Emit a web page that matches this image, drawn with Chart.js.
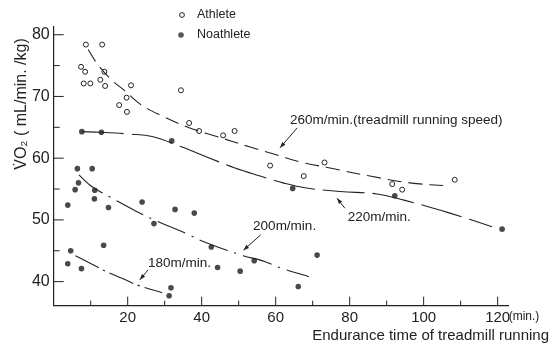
<!DOCTYPE html>
<html>
<head>
<meta charset="utf-8">
<script src="https://cdn.jsdelivr.net/npm/chart.js@4.4.0/dist/chart.umd.min.js"></script>
<style>
  html, body { margin: 0; padding: 0; background: #fff; }
</style>
</head>
<body>
<canvas id="chart" width="554" height="348"></canvas>
<script>
// VO2 vs endurance time on the treadmill
// x = endurance time (min), y = VO2 (mL/min./kg)

const athlete = [
  [8.7, 78.4], [13.1, 78.4], [7.4, 74.8], [8.5, 74.0], [13.7, 74.0],
  [8.1, 72.1], [9.9, 72.1], [12.6, 72.7], [13.9, 71.7], [20.9, 71.8],
  [19.7, 69.8], [17.7, 68.6], [19.8, 67.5], [34.4, 71.0], [36.6, 65.7],
  [39.3, 64.4], [45.8, 63.7], [48.9, 64.4], [58.5, 58.8], [67.6, 57.1],
  [73.2, 59.3], [91.5, 55.8], [94.2, 54.9], [108.4, 56.5]
];

const noathlete = [
  [7.6, 64.3], [12.9, 64.2], [31.9, 62.8], [6.4, 58.3], [10.4, 58.3],
  [6.7, 56.0], [5.8, 54.9], [11.1, 54.8], [11.0, 53.4], [3.8, 52.4],
  [14.8, 52.0], [23.9, 52.9], [27.1, 49.4], [32.8, 51.7], [38.0, 51.1],
  [42.6, 45.6], [44.3, 42.3], [50.4, 41.7], [54.2, 43.4], [64.6, 55.1],
  [71.2, 44.3], [66.1, 39.2], [92.2, 53.9], [121.2, 48.5], [4.6, 45.0],
  [3.8, 42.9], [7.5, 42.1], [13.5, 45.9], [31.7, 39.0], [31.2, 37.7]
];

// hand-drawn trend curves, one per running speed
const curve260 = [
  [9.3, 77.6], [12.0, 75.1], [15.8, 72.6], [19.3, 70.9], [23.3, 68.8],
  [28.7, 67.0], [36.8, 64.9], [43.6, 63.6], [53.1, 61.8], [60.4, 60.5],
  [66.6, 59.4], [74.7, 58.4], [85.5, 57.1], [96.3, 56.0], [107.1, 55.5]
];
const curve220 = [
  [7.6, 64.3], [12.5, 64.2], [20.6, 63.9], [26.6, 63.5], [34.7, 61.8],
  [42.2, 60.0], [49.0, 58.4], [55.8, 57.1], [62.0, 56.0], [67.9, 55.2],
  [77.4, 54.6], [87.4, 54.2], [94.7, 53.2], [107.1, 51.1], [118.5, 48.9]
];
const curve200 = [
  [6.8, 57.3], [10.1, 55.5], [13.1, 54.4], [15.2, 53.7], [22.0, 51.5],
  [27.9, 49.8], [35.8, 47.8], [40.4, 46.5], [51.2, 44.2], [56.3, 43.4],
  [61.9, 42.1], [69.0, 40.8]
];
const curve180 = [
  [5.9, 44.2], [11.7, 42.4], [13.6, 41.8], [20.1, 40.1], [23.3, 39.3], [29.3, 38.2]
];

const xMajor = [20, 40, 60, 80, 100, 120];
const xMinor = [10, 30, 50, 70, 90, 110];
const yMajor = [40, 50, 60, 70, 80];
const yMinor = [45, 55, 65, 75];

const ink = '#222';
const font = "'Liberation Sans', 'DejaVu Sans', sans-serif";
const pts = (arr) => arr.map(([x, y]) => ({ x, y }));

// speed labels with their arrows (anchor, arrow tail, arrow tip in data units)
const notes = [
  { text: '260m/min.(treadmill running speed)', at: [63.9, 66.2], from: [65.8, 64.9], to: [61.2, 61.7] },
  { text: '220m/min.', at: [79.5, 50.5], from: [78.7, 51.9], to: [76.6, 53.5] },
  { text: '200m/min.', at: [53.9, 48.9], from: [56.0, 47.6], to: [51.3, 45.1] },
  { text: '180m/min.', at: [25.5, 43.0], from: [25.5, 41.9], to: [23.3, 40.3] }
];

const curve = (data, dash) => ({
  data: pts(data),
  showLine: true,
  pointRadius: 0,
  borderColor: ink,
  borderWidth: 1.1,
  borderDash: dash,
  tension: 0.4,
  fill: false
});

const decor = {
  id: 'decor',
  afterDraw(chart) {
    const { ctx, scales: { x, y } } = chart;
    ctx.save();
    ctx.strokeStyle = ink;
    ctx.fillStyle = ink;
    ctx.lineWidth = 1;

    const seg = (x1, y1, x2, y2) => {
      ctx.beginPath(); ctx.moveTo(x1, y1); ctx.lineTo(x2, y2); ctx.stroke();
    };

    // inward ticks
    xMajor.forEach(v => { const p = x.getPixelForValue(v); seg(p, y.bottom, p, y.bottom - 9); });
    xMinor.forEach(v => { const p = x.getPixelForValue(v); seg(p, y.bottom, p, y.bottom - 5); });
    yMajor.forEach(v => { const p = y.getPixelForValue(v); seg(x.left, p, x.left + 10, p); });
    yMinor.forEach(v => { const p = y.getPixelForValue(v); seg(x.left, p, x.left + 6, p); });

    // speed labels + arrows
    ctx.font = '13.5px ' + font;
    ctx.textBaseline = 'middle';
    ctx.textAlign = 'left';
    notes.forEach(n => {
      ctx.fillText(n.text, x.getPixelForValue(n.at[0]), y.getPixelForValue(n.at[1]));
      const x1 = x.getPixelForValue(n.from[0]), y1 = y.getPixelForValue(n.from[1]);
      const x2 = x.getPixelForValue(n.to[0]), y2 = y.getPixelForValue(n.to[1]);
      seg(x1, y1, x2, y2);
      const a = Math.atan2(y2 - y1, x2 - x1);
      ctx.beginPath();
      ctx.moveTo(x2, y2);
      ctx.lineTo(x2 - 6 * Math.cos(a - 0.35), y2 - 6 * Math.sin(a - 0.35));
      ctx.lineTo(x2 - 6 * Math.cos(a + 0.35), y2 - 6 * Math.sin(a + 0.35));
      ctx.closePath();
      ctx.fill();
    });

    // legend
    ctx.font = '12.5px ' + font;
    ctx.beginPath(); ctx.arc(182, 15, 2.4, 0, Math.PI * 2);
    ctx.fillStyle = '#fff'; ctx.fill(); ctx.stroke();
    ctx.beginPath(); ctx.arc(181, 35, 2.8, 0, Math.PI * 2);
    ctx.fillStyle = '#555'; ctx.fill();
    ctx.fillStyle = ink;
    ctx.fillText('Athlete', 197, 15);
    ctx.fillText('Noathlete', 197, 35);

    // unit after the last x tick
    ctx.font = '12px ' + font;
    ctx.fillText('(min.)', x.getPixelForValue(120) + 11, 317);

    // axis titles
    ctx.font = '15px ' + font;
    ctx.textAlign = 'right';
    ctx.fillText('Endurance time of treadmill running', 549, 336);

    ctx.translate(22, 104);
    ctx.rotate(-Math.PI / 2);
    ctx.textAlign = 'center';
    ctx.font = '16px ' + font;
    ctx.fillText('V\u0307O\u2082 ( mL/min. /kg)', 0, 0);
    ctx.restore();
  }
};

new Chart(document.getElementById('chart'), {
  type: 'scatter',
  data: {
    datasets: [
      curve(curve260, [14, 7]),
      curve(curve220, [42, 8]),
      curve(curve200, [30, 7, 2, 7]),
      curve(curve180, [26, 5, 2, 5]),
      {
        label: 'Athlete',
        data: pts(athlete),
        pointRadius: 2.5,
        pointBackgroundColor: '#fff',
        pointBorderColor: ink,
        pointBorderWidth: 1
      },
      {
        label: 'Noathlete',
        data: pts(noathlete),
        pointRadius: 2.8,
        pointBackgroundColor: '#4a4a4a',
        pointBorderColor: '#4a4a4a',
        pointBorderWidth: 0
      }
    ]
  },
  options: {
    responsive: false,
    animation: false,
    devicePixelRatio: 1,
    layout: { padding: { left: 0, top: 26.7, right: 46, bottom: 0 } },
    plugins: { legend: { display: false }, tooltip: { enabled: false } },
    scales: {
      x: {
        type: 'linear',
        min: 0,
        max: 122.8,
        afterBuildTicks: s => { s.ticks = xMajor.map(v => ({ value: v })); },
        afterFit: s => { s.height = 42.3; },
        grid: { drawOnChartArea: false, drawTicks: false },
        border: { display: true, color: ink, width: 1.2 },
        ticks: { color: ink, font: { family: font, size: 15 }, padding: 3, maxRotation: 0, autoSkip: false }
      },
      y: {
        type: 'linear',
        min: 36.1,
        max: 81.3,
        afterBuildTicks: s => { s.ticks = yMajor.map(v => ({ value: v })); },
        afterFit: s => { s.width = 53.7; },
        grid: { drawOnChartArea: false, drawTicks: false },
        border: { display: true, color: ink, width: 1.2 },
        ticks: { color: ink, font: { family: font, size: 16 }, padding: 4 }
      }
    }
  },
  plugins: [decor]
});
</script>
</body>
</html>
